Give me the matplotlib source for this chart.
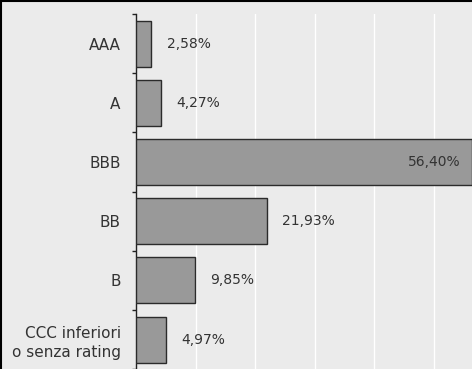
import matplotlib
matplotlib.use("Agg")
import matplotlib.pyplot as plt
from matplotlib.lines import Line2D

categories = ["AAA", "A", "BBB", "BB", "B", "CCC inferiori\no senza rating"]
shares = [2.58, 4.27, 56.40, 21.93, 9.85, 4.97]
value_labels = ["2,58%", "4,27%", "56,40%", "21,93%", "9,85%", "4,97%"]

BG = "#ebebeb"
BAR = "#999999"
TEXT = "#333333"

W, H = 472, 369
fig = plt.figure(figsize=(W / 100, H / 100), dpi=100, facecolor=BG)

# axes is larger than the canvas on the right/bottom, like the cropped original
left, top = 136 / W, 1 - 14 / H
x_max = 60
px_per_unit = 5.96
right = (136 + x_max * px_per_unit) / W
bottom = 1 - (14 + 6 * 59.2) / H
ax = fig.add_axes([left, bottom, right - left, top - bottom], facecolor=BG)

ypos = list(range(len(categories)))
ax.barh(ypos, shares, height=0.78, color=BAR, edgecolor="#2b2b2b", linewidth=1.0, zorder=3)

ax.set_xlim(0, x_max)
ax.set_ylim(len(categories) - 0.5, -0.5)
ax.set_xticks(range(10, x_max + 1, 10))
ax.xaxis.grid(True, color="white", linewidth=1.0, zorder=0)
ax.tick_params(axis="x", length=0, labelbottom=False)

# category ticks sit on band boundaries, labels in the middle
ax.set_yticks([y + 0.5 for y in [-1] + ypos])
ax.set_yticks(ypos, minor=True)
ax.set_yticklabels(categories, minor=True, fontsize=11, color=TEXT)
ax.tick_params(axis="y", which="major", length=3, width=1, color="#222222", labelleft=False)
ax.tick_params(axis="y", which="minor", length=0, pad=11)
for lab in ax.get_yticklabels(minor=True):
    lab.set_horizontalalignment("right")
    lab.set_multialignment("right")
    lab.set_linespacing(1.3)

for side in ("top", "right", "bottom"):
    ax.spines[side].set_visible(False)
ax.spines["left"].set_color("#222222")
ax.spines["left"].set_linewidth(1)

for y, v, lab in zip(ypos, shares, value_labels):
    if v > 50:
        ax.annotate(lab, (v, y), xytext=(-8, 0), textcoords="offset points",
                    ha="right", va="center", fontsize=10, color=TEXT, zorder=4,
                    annotation_clip=False)
    else:
        ax.annotate(lab, (v, y), xytext=(11, 0), textcoords="offset points",
                    ha="left", va="center", fontsize=10, color=TEXT, zorder=4)

# frame visible only on the left and top edges
fig.add_artist(Line2D([0.5 / W, 0.5 / W], [0, 1], color="black", linewidth=1.5,
                      transform=fig.transFigure))
fig.add_artist(Line2D([0, 1], [1 - 0.5 / H, 1 - 0.5 / H], color="black", linewidth=1.5,
                      transform=fig.transFigure))

fig.savefig("out.png", dpi=100, facecolor=BG)
